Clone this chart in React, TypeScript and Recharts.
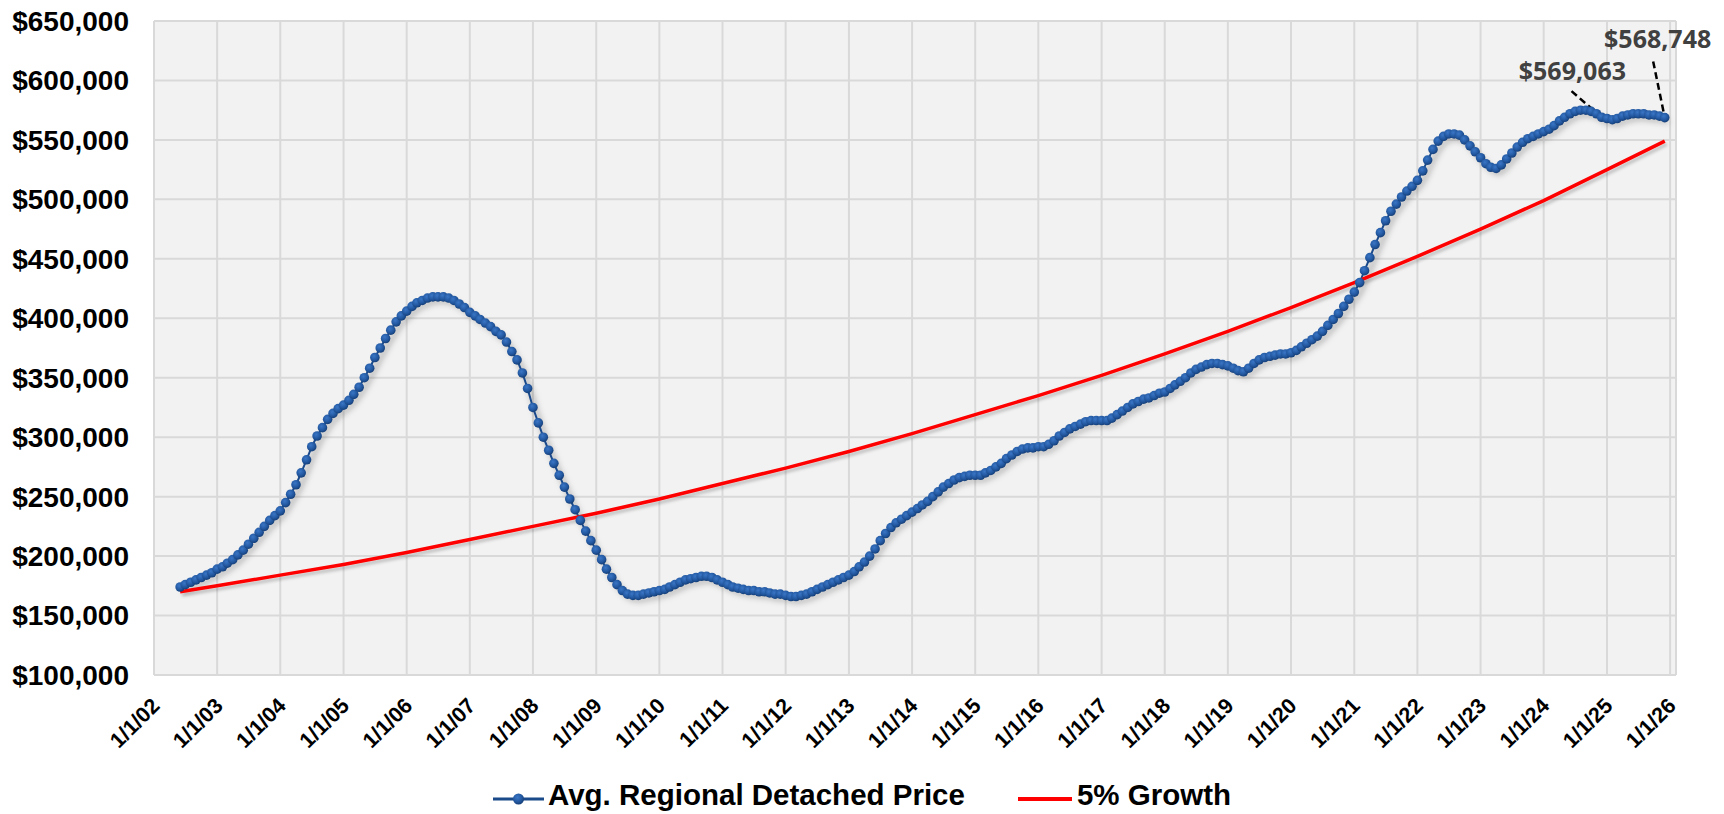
import React from "react";
import {
  CartesianGrid,
  Legend,
  Line,
  LineChart,
  ReferenceDot,
  ReferenceLine,
  XAxis,
  YAxis,
} from "recharts";

const W = 1724;
const H = 814;
const FONT = "'Liberation Sans', Arial, sans-serif";
const GRID = "#d9d9d9";
const BLUE = "#1a4a8a";
const RED = "#ff0000";

// monthly average price, Jun 2002 .. Dec 2025
const avgPrice = [
  174000, 176000, 178000, 180000, 182000, 184000, 186000, // 2002 (Jun-Dec)
  189000, 191000, 194000, 197000, 201000, 205000, 210000, 215000, 220000, 225000, 230000, 234000, // 2003
  238000, 245000, 252000, 260000, 270000, 281000, 292000, 301000, 308000, 315000, 320000, 324000, // 2004
  327000, 331000, 336000, 342000, 350000, 358000, 367000, 375000, 383000, 390000, 397000, 402000, // 2005
  406000, 410000, 413000, 415000, 417000, 418000, 418000, 418000, 417000, 415000, 412000, 409000, // 2006
  405000, 402000, 399000, 396000, 393000, 389000, 386000, 380000, 372000, 365000, 354000, 341000, // 2007
  325000, 312000, 300000, 289000, 278000, 268000, 258000, 248000, 239000, 230000, 221000, 213000, // 2008
  205000, 197000, 189000, 182000, 176000, 171000, 168000, 167000, 167000, 168000, 169000, 170000, // 2009
  171000, 172000, 174000, 176000, 178000, 180000, 181000, 182000, 183000, 183000, 182000, 180000, // 2010
  178000, 176000, 174000, 173000, 172000, 171000, 171000, 170000, 170000, 169000, 168000, 168000, // 2011
  167000, 166000, 166000, 167000, 168000, 170000, 172000, 174000, 176000, 178000, 180000, 182000, // 2012
  184000, 187000, 191000, 195000, 200000, 206000, 213000, 219000, 224000, 228000, 231000, 234000, // 2013
  237000, 240000, 243000, 246000, 250000, 254000, 258000, 261000, 264000, 266000, 267000, 268000, // 2014
  268000, 268000, 270000, 272000, 275000, 278000, 282000, 285000, 288000, 290000, 291000, 291000, // 2015
  292000, 292000, 294000, 297000, 301000, 304000, 307000, 309000, 311000, 313000, 314000, 314000, // 2016
  314000, 314000, 316000, 319000, 322000, 325000, 328000, 330000, 332000, 333000, 335000, 337000, // 2017
  338000, 341000, 344000, 347000, 350000, 354000, 357000, 359000, 361000, 362000, 362000, 361000, // 2018
  360000, 358000, 356000, 355000, 358000, 362000, 365000, 367000, 368000, 369000, 370000, 370000, // 2019
  371000, 373000, 376000, 379000, 382000, 385000, 389000, 394000, 399000, 404000, 410000, 416000, // 2020
  422000, 430000, 440000, 451000, 462000, 472000, 482000, 490000, 496000, 502000, 507000, 511000, // 2021
  516000, 524000, 533000, 542000, 549000, 553000, 555000, 555000, 554000, 550000, 545000, 540000, // 2022
  535000, 530000, 527000, 526000, 529000, 534000, 539000, 544000, 548000, 551000, 553000, 555000, // 2023
  557000, 559000, 562000, 566000, 569000, 572000, 574000, 575000, 575000, 574000, 572000, 569063, // 2024
  568000, 567000, 568000, 570000, 571000, 572000, 572000, 572000, 571000, 571000, 570000, 568748, // 2025
];

// 5% growth line, read at its start, every January and its end
const growthDates = [
  Date.UTC(2002, 5, 1),
  ...Array.from({ length: 23 }, (_, i) => Date.UTC(2003 + i, 0, 1)),
  Date.UTC(2025, 11, 1),
];
const growthValues = [
  170000, 175000, 184000, 193000, 203000, 214000, 225000, 236000, 248000, 261000, 274000, 288000,
  303000, 319000, 335000, 352000, 370000, 389000, 409000, 430000, 452000, 475000, 499000, 525000,
  549000,
];

const yTicks = [100000, 150000, 200000, 250000, 300000, 350000, 400000, 450000, 500000, 550000, 600000, 650000];
const xTicks = Array.from({ length: 25 }, (_, i) => Date.UTC(2002 + i, 0, 1));
const X_MIN = Date.UTC(2002, 0, 1);
const X_MAX = Date.UTC(2026, 1, 4);

const priceData = avgPrice.map((v, i) => ({ date: Date.UTC(2002, 5 + i, 1), value: v }));
const growthData = growthValues.map((v, i) => ({ date: growthDates[i], value: v }));

const lastYear = { date: Date.UTC(2024, 11, 1), value: 569063 };
const lastMonth = { date: Date.UTC(2025, 11, 1), value: 568748 };

const money = (v: number) => "$" + v.toLocaleString("en-US");

function DateTick({ x, y, payload }: any) {
  const yy = String(new Date(payload.value).getUTCFullYear() % 100).padStart(2, "0");
  const px = x + 7;
  const py = y + 32;
  return (
    <text
      x={px}
      y={py}
      transform={`rotate(-45 ${px} ${py})`}
      textAnchor="end"
      fontFamily={FONT}
      fontWeight={700}
      fontSize={21.5}
      fill="#000"
    >
      {`1/1/${yy}`}
    </text>
  );
}

function NoteLabel({ viewBox, text }: any) {
  return (
    <text
      x={viewBox.x}
      y={viewBox.y}
      fontFamily="'Open Sans', 'Noto Sans', sans-serif"
      fontWeight={700}
      fontSize={25}
      fill="#404040"
    >
      {text}
    </text>
  );
}

function LegendBox() {
  return (
    <div
      style={{
        display: "flex",
        justifyContent: "center",
        alignItems: "center",
        height: 40,
        lineHeight: "40px",
        fontFamily: FONT,
        fontWeight: 700,
        fontSize: 29.5,
        color: "#000",
      }}
    >
      <svg width={51} height={14} style={{ marginRight: 4, marginTop: 8 }}>
        <line x1={0} y1={7} x2={51} y2={7} stroke={BLUE} strokeWidth={3} />
        <circle cx={25.5} cy={7} r={5.5} fill="url(#dotFill)" />
      </svg>
      <span>Avg. Regional Detached Price</span>
      <svg width={54} height={8} style={{ marginLeft: 53, marginRight: 5, marginTop: 8 }}>
        <line x1={0} y1={4} x2={54} y2={4} stroke={RED} strokeWidth={4} />
      </svg>
      <span>5% Growth</span>
    </div>
  );
}

export default function App() {
  return (
    <div style={{ position: "absolute", left: 0, top: 0, width: W, height: H, background: "#fff" }}>
      <style>{`.price-series { filter: url(#priceShadow); } .growth-series { filter: url(#growthShadow); }`}</style>
      <LineChart width={W} height={H} margin={{ top: 21, right: 48, left: 0, bottom: 0 }}>
        <defs>
          <radialGradient id="dotFill" cx="40%" cy="35%" r="70%">
            <stop offset="0%" stopColor="#3a76c6" />
            <stop offset="60%" stopColor="#22579f" />
            <stop offset="100%" stopColor="#133a70" />
          </radialGradient>
          <filter id="priceShadow" x="-5%" y="-5%" width="110%" height="115%">
            <feDropShadow dx="3.5" dy="4.5" stdDeviation="3" floodColor="#000" floodOpacity="0.6" />
          </filter>
          <filter id="growthShadow" x="-5%" y="-5%" width="110%" height="115%">
            <feDropShadow dx="2" dy="3" stdDeviation="1.5" floodColor="#000" floodOpacity="0.2" />
          </filter>
        </defs>
        <CartesianGrid fill="#f2f2f2" stroke={GRID} strokeWidth={2} />
        <XAxis
          dataKey="date"
          type="number"
          domain={[X_MIN, X_MAX]}
          ticks={xTicks}
          interval={0}
          height={139}
          tickSize={0}
          tickMargin={0}
          tickLine={false}
          axisLine={{ stroke: GRID, strokeWidth: 2 }}
          tick={<DateTick />}
          allowDataOverflow
        />
        <YAxis
          type="number"
          domain={[100000, 650000]}
          ticks={yTicks}
          width={154}
          tickSize={0}
          tickMargin={25}
          tickLine={false}
          axisLine={false}
          tickFormatter={money}
          tick={{ fill: "#000", fontSize: 28, fontWeight: 700, fontFamily: FONT }}
        />
        <Line
          className="price-series"
          data={priceData}
          dataKey="value"
          name="Avg. Regional Detached Price"
          stroke={BLUE}
          strokeWidth={2}
          dot={{ r: 4.8, fill: "url(#dotFill)", stroke: "none" }}
          activeDot={false}
          isAnimationActive={false}
        />
        <Line
          className="growth-series"
          data={growthData}
          dataKey="value"
          name="5% Growth"
          stroke={RED}
          strokeWidth={3.5}
          dot={false}
          activeDot={false}
          isAnimationActive={false}
        />
        <ReferenceLine
          segment={[{ x: Date.UTC(2024, 5, 10), y: 591000 }, { x: lastYear.date, y: lastYear.value }]}
          stroke="#000"
          strokeWidth={2.5}
          strokeDasharray="7 4"
          ifOverflow="visible"
        />
        <ReferenceLine
          segment={[{ x: Date.UTC(2025, 8, 25), y: 616000 }, { x: lastMonth.date, y: lastMonth.value }]}
          stroke="#000"
          strokeWidth={2.5}
          strokeDasharray="7 4"
          ifOverflow="visible"
        />
        <ReferenceDot
          x={Date.UTC(2023, 7, 10)}
          y={600800}
          r={0}
          ifOverflow="visible"
          label={<NoteLabel text={money(lastYear.value)} />}
        />
        <ReferenceDot
          x={Date.UTC(2024, 11, 15)}
          y={626900}
          r={0}
          ifOverflow="visible"
          label={<NoteLabel text={money(lastMonth.value)} />}
        />
        <Legend
          verticalAlign="middle"
          align="center"
          content={() => <LegendBox />}
          wrapperStyle={{ top: 775, left: 0, width: W, height: 40 }}
        />
      </LineChart>
    </div>
  );
}
